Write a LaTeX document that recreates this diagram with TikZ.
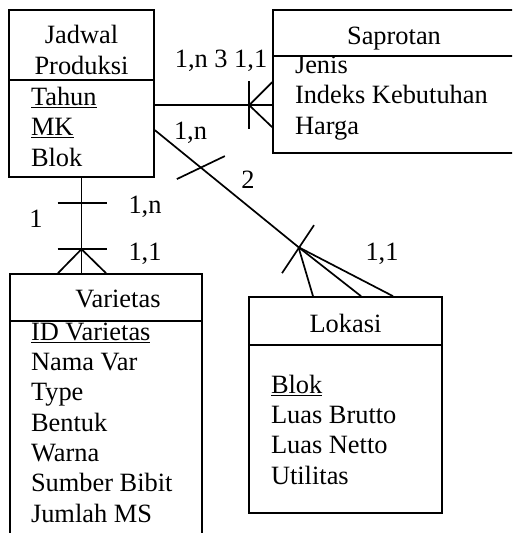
\documentclass[tikz,border=0pt]{standalone}
\usepackage{fontspec}
\setmainfont{Liberation Serif}
\usetikzlibrary{calc}

\begin{document}
\begin{tikzpicture}[
    x=1pt, y=-1pt,
    line width=1.7pt,
    every node/.style={font=\fontsize{26.4}{30.3}\selectfont, inner sep=0pt},
    entity/.style={draw, rectangle},
    title/.style={anchor=base, align=center},
    attrs/.style={anchor=base west, align=left},
    card/.style={anchor=base}
]
    \clip (0,0) rectangle (512,533);

    % entities
    \node[entity, minimum width=145pt, minimum height=167pt] (jadwal) at (81.5,93.5) {};
    \node[entity, minimum width=242pt, minimum height=143pt] (saprotan) at (394,81.5) {};
    \node[entity, minimum width=192pt, minimum height=290pt] (varietas) at (106,419) {};
    \node[entity, minimum width=193pt, minimum height=216pt] (lokasi) at (345.5,405) {};

    \draw ($(jadwal.north west)+(0,71)$) -- ($(jadwal.north east)+(0,71)$);
    \draw ($(saprotan.north west)+(0,47)$) -- ($(saprotan.north east)+(0,47)$);
    \draw ($(varietas.north west)+(0,48)$) -- ($(varietas.north east)+(0,48)$);
    \draw ($(lokasi.north west)+(0,49)$) -- ($(lokasi.north east)+(0,49)$);

    % titles and attributes (placed at the baseline of their last line)
    \node[title] (jadwaltitle) at ($(jadwal.north)+(0,65)$) {Jadwal\\Produksi};
    \node[title] (saprotantitle) at ($(saprotan.north)+(0,35)$) {Saprotan};
    \node[title] (varietastitle) at ($(varietas.north)+(12,34)$) {Varietas};
    \node[title] (lokasititle) at ($(lokasi.north)+(0,36)$) {Lokasi};

    \node[attrs] (jadwalattr) at ($(jadwal.north west)+(22,157)$)
        {\underline{Tahun}\\\underline{MK}\\Blok};
    \node[attrs] (saprotanattr) at ($(saprotan.north west)+(22,125)$)
        {Jenis\\Indeks Kebutuhan\\Harga};
    \node[attrs] (varietasattr) at ($(varietas.north west)+(21,249)$)
        {\underline{ID Varietas}\\Nama Var\\Type\\Bentuk\\Warna\\Sumber Bibit\\Jumlah MS};
    \node[attrs] (lokasiattr) at ($(lokasi.north west)+(22,188)$)
        {\underline{Blok}\\Luas Brutto\\Luas Netto\\Utilitas};

    % Jadwal Produksi -- Saprotan
    \coordinate (sapend) at ($(saprotan.north west)+(0,96)$);
    \coordinate (sapfoot) at ($(sapend)+(-23,0)$);
    \draw (sapend -| jadwal.east) -- (sapend);
    \draw ($(sapend)+(0,-23)$) -- (sapfoot) -- ($(sapend)+(0,22)$);
    \draw ($(sapfoot)+(0,-24)$) -- ($(sapfoot)+(0,24)$);

    % Jadwal Produksi -- Varietas
    \coordinate (varend) at (jadwal.south |- varietas.north);
    \coordinate (vartick) at ($(jadwal.south)+(0,25)$);
    \coordinate (varfoot) at ($(varend)+(0,-24)$);
    \draw (jadwal.south) -- (varend);
    \draw ($(vartick)+(-24,0)$) -- ($(vartick)+(25,0)$);
    \draw ($(varfoot)+(-24,0)$) -- ($(varfoot)+(25,0)$);
    \draw ($(varend)+(-23.5,0)$) -- (varfoot) -- ($(varend)+(24.5,0)$);

    % Jadwal Produksi -- Lokasi
    \coordinate (lokstart) at ($(jadwal.north east)+(0,121)$);
    \coordinate (lokfoot) at ($(lokasi.north)+(-47,-49)$);
    \coordinate (loktick) at ($(lokstart)!0.32!(lokfoot)$);
    \draw (lokstart) -- (lokfoot) -- ($(lokasi.north)+(15.5,0)$);
    \draw ($(lokasi.north)+(-32.5,0)$) -- (lokfoot) -- ($(lokasi.north)+(47.5,0)$);
    \draw ($(loktick)+(-24,11.5)$) -- ($(loktick)+(24,-11.5)$);
    \draw ($(lokfoot)+(-16.5,26)$) -- ($(lokfoot)+(15.5,-22)$);

    % cardinalities
    \node[card] (cardsap) at (221,67) {1,n 3 1,1};
    \node[card] (cardlokn) at (190.5,139) {1,n};
    \node[card] (cardlokrel) at (248,188) {2};
    \node[card] (cardlok) at (382,260) {1,1};
    \node[card] (cardvarn) at (145,213) {1,n};
    \node[card] (cardvar) at (145,260) {1,1};
    \node[card] (cardvarrel) at (36,227) {1};
\end{tikzpicture}
\end{document}
